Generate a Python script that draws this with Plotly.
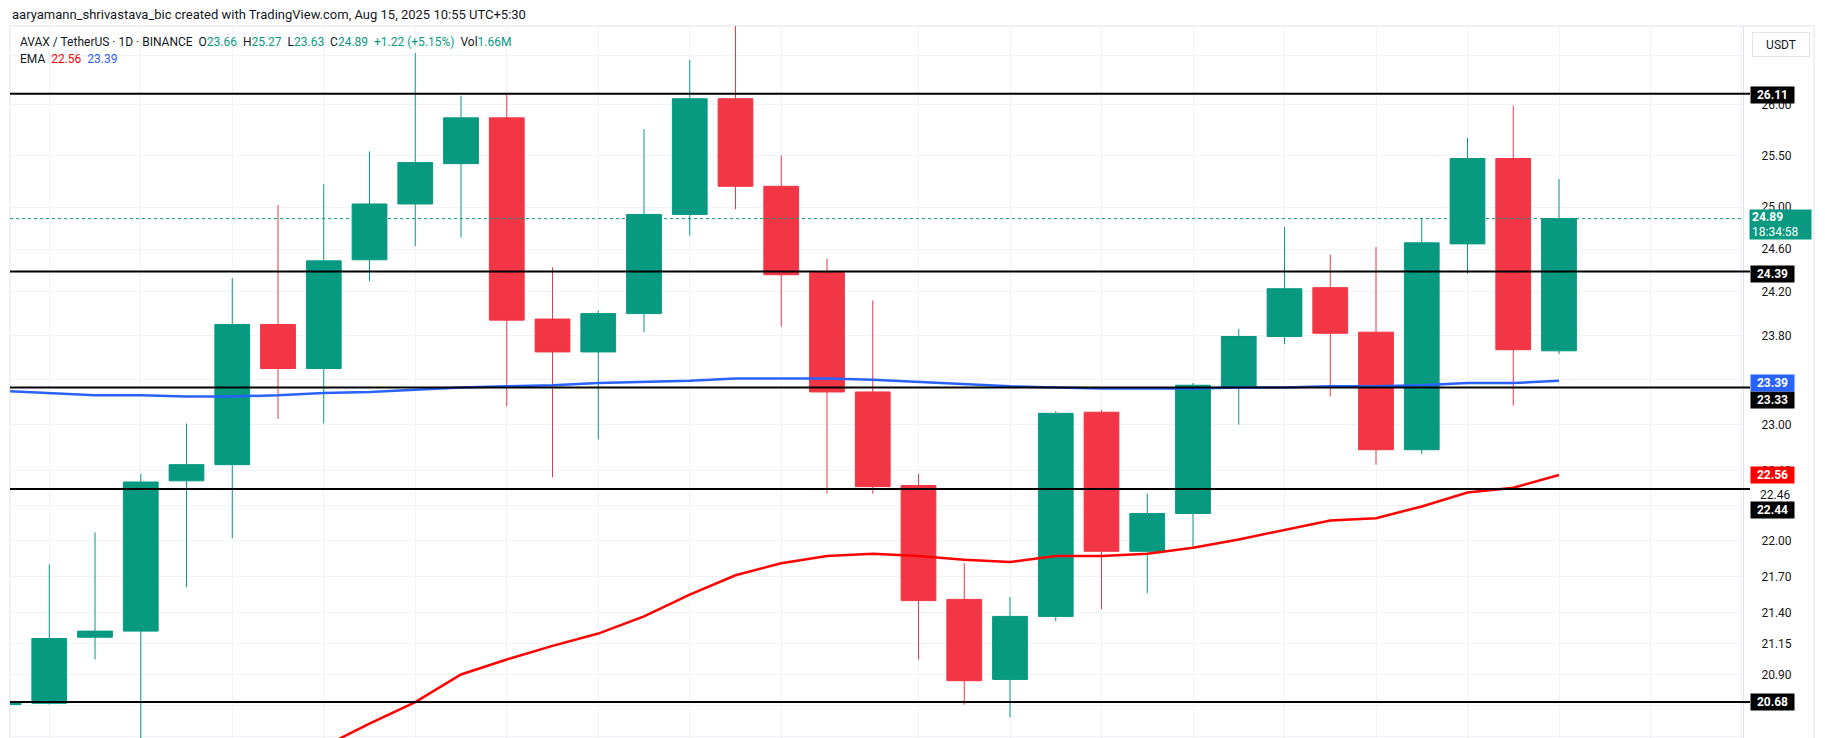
import math
import pandas as pd
import plotly.graph_objects as go

# ---------------- data ----------------
dates = pd.date_range("2025-07-12", periods=35, freq="D")

open_ = [20.66, 20.67, 21.20, 21.25, 22.51, 22.65, 23.90, 23.50, 24.50, 25.03,
         25.42, 25.87, 23.95, 23.65, 24.00, 24.93, 26.06, 25.20, 24.38, 23.29,
         22.47, 21.51, 20.86, 21.37, 23.11, 21.91, 22.23, 23.34, 23.79, 24.24,
         23.83, 22.78, 24.65, 25.47, 23.66]
high = [20.69, 21.80, 22.07, 22.57, 23.01, 24.33, 25.02, 25.22, 25.54, 26.52,
        26.09, 26.10, 24.43, 24.03, 25.76, 26.45, 26.85, 25.50, 24.51, 24.12,
        22.57, 21.81, 21.53, 23.12, 23.13, 22.40, 23.37, 23.86, 24.81, 24.55,
        24.62, 24.89, 25.67, 25.99, 25.27]
low = [20.65, 20.66, 21.02, 20.30, 21.61, 22.02, 23.05, 23.01, 24.30, 24.63,
       24.71, 23.16, 22.54, 22.87, 23.83, 24.73, 24.98, 23.88, 22.40, 22.40,
       21.02, 20.66, 20.56, 21.33, 21.43, 21.56, 21.95, 23.00, 23.72, 23.25,
       22.65, 22.74, 24.37, 23.17, 23.63]
close = [20.68, 21.19, 21.25, 22.50, 22.65, 23.90, 23.50, 24.49, 25.03, 25.43,
         25.87, 23.94, 23.65, 24.00, 24.93, 26.06, 25.20, 24.36, 23.29, 22.46,
         21.50, 20.85, 21.37, 23.10, 21.91, 22.23, 23.35, 23.79, 24.23, 23.82,
         22.78, 24.66, 25.47, 23.67, 24.89]

ema_blue = [23.30, 23.28, 23.26, 23.26, 23.25, 23.25, 23.26, 23.28, 23.29, 23.31,
            23.33, 23.34, 23.35, 23.37, 23.38, 23.39, 23.41, 23.41, 23.41, 23.40,
            23.38, 23.36, 23.34, 23.33, 23.32, 23.32, 23.32, 23.33, 23.33, 23.34,
            23.34, 23.35, 23.37, 23.37, 23.39]
ema_red = [None, None, None, None, None, None, None,
           20.33, 20.51, 20.68, 20.90, 21.02, 21.13, 21.23, 21.37, 21.55, 21.71,
           21.81, 21.87, 21.89, 21.87, 21.84, 21.82, 21.87, 21.87, 21.89, 21.94,
           22.01, 22.09, 22.17, 22.19, 22.29, 22.41, 22.45, 22.56]

levels = [26.11, 24.39, 23.33, 22.44, 20.68]
level_label_shift = [-1, -2, -13, -21, 0]

# price-scale ticks (gridlines); labels hidden under boxes are left blank
tick_vals = [20.41, 20.65, 20.90, 21.15, 21.40, 21.70, 22.00, 22.30, 22.60,
             23.00, 23.40, 23.80, 24.20, 24.60, 25.00, 25.50, 26.00, 26.50]
hidden_ticks = [20.65, 22.30, 23.40, 26.50]
tick_text = ["" if v in hidden_ticks else "%.2f" % v for v in tick_vals]
extra_label_value = 22.39
extra_label_text = "22.46"

last_price = 24.89
countdown = "18:34:58"
ema_red_last = 22.56
ema_blue_last = 23.39

header = "aaryamann_shrivastava_bic created with TradingView.com, Aug 15, 2025 10:55 UTC+5:30"
symbol = "AVAX / TetherUS · 1D · BINANCE"
ohlc_o, ohlc_h, ohlc_l, ohlc_c = "23.66", "25.27", "23.63", "24.89"
change_txt = "+1.22 (+5.15%)"
vol_txt = "1.66M"

grid_dates = (list(pd.date_range("2025-07-13", "2025-07-29", freq="2D")) +
              list(pd.date_range("2025-08-01", "2025-08-19", freq="2D")))

# ---------------- style ----------------
W, H = 1825, 738
ML, MR, MT, MB = 10, 82, 26, 0
PW, PH = W - ML - MR, H - MT - MB
UP, DOWN = "#089981", "#F23645"
BLUE, RED = "#2962FF", "#FF0000"
TXT = "#131722"
GRID = "#f0f3fa"
BORDER = "#e0e3eb"
FONT = "Roboto"

def px_y(py):
    return (H - MB - py) / PH

def px_x(px):
    return (px - ML) / PW

y_top, y_bot = 26.797, 20.397
x0 = dates[0] + pd.Timedelta(hours=3.4)
x1 = dates[0] + pd.Timedelta(days=38.022)

fig = go.Figure()
fig.add_trace(go.Candlestick(
    x=dates, open=open_, high=high, low=low, close=close,
    increasing=dict(line=dict(color=UP, width=1), fillcolor=UP),
    decreasing=dict(line=dict(color=DOWN, width=1), fillcolor=DOWN),
    whiskerwidth=0, hoverinfo="skip"))
fig.add_trace(go.Scatter(x=dates, y=ema_blue, mode="lines",
                         line=dict(color=BLUE, width=2.5), hoverinfo="skip"))
fig.add_trace(go.Scatter(x=dates, y=ema_red, mode="lines",
                         line=dict(color=RED, width=2.5), hoverinfo="skip"))

shapes = []
shapes.append(dict(type="rect", xref="paper", yref="paper", x0=0, x1=px_x(1814),
                   y0=-0.01, y1=1, line=dict(color=BORDER, width=1), layer="below"))
for lv in levels:
    shapes.append(dict(type="line", xref="paper", yref="y", x0=0, x1=px_x(1750),
                       y0=lv, y1=lv, line=dict(color="black", width=2)))
shapes.append(dict(type="line", xref="paper", yref="y", x0=0, x1=1,
                   y0=last_price, y1=last_price,
                   line=dict(color=UP, width=1, dash="dot")))

ann = []
ann.append(dict(text=header, xref="paper", yref="paper", x=0, y=px_y(15),
                xanchor="left", yanchor="middle", showarrow=False,
                font=dict(family=FONT, size=13, color=TXT)))
g = lambda s: "<span style='color:%s'>%s</span>" % (UP, s)
sp = "\u00a0\u00a0"
line1 = (symbol + sp + "O" + g(ohlc_o) + sp + "H" + g(ohlc_h) + sp + "L" + g(ohlc_l)
         + sp + "C" + g(ohlc_c) + sp + g(change_txt) + sp + "Vol" + g(vol_txt))
ann.append(dict(text=line1, xref="paper", yref="paper", x=px_x(18), y=px_y(42),
                xanchor="left", yanchor="middle", showarrow=False,
                font=dict(family=FONT, size=12, color=TXT)))
line2 = ("EMA" + sp + "<span style='color:%s'>%.2f</span>" % (RED, ema_red_last) + sp +
         "<span style='color:%s'>%.2f</span>" % (BLUE, ema_blue_last))
ann.append(dict(text=line2, xref="paper", yref="paper", x=px_x(18), y=px_y(59),
                xanchor="left", yanchor="middle", showarrow=False,
                font=dict(family=FONT, size=12, color=TXT)))
ann.append(dict(text="USDT", xref="paper", yref="paper", x=px_x(1781), y=px_y(44),
                xanchor="center", yanchor="middle", showarrow=False,
                width=52, height=19, borderpad=2, bgcolor="white",
                bordercolor=BORDER, borderwidth=1,
                font=dict(family=FONT, size=12, color=TXT)))

def price_box(val, bg, shift=0):
    return dict(text="<b>%.2f</b>" % val, xref="paper", yref="y", x=1,
                y=math.log10(val), xanchor="left", yanchor="middle", xshift=7,
                yshift=shift, showarrow=False, width=39, height=12, borderpad=2,
                bgcolor=bg, font=dict(family=FONT, size=12, color="white"))

for lv, sh in zip(levels, level_label_shift):
    ann.append(price_box(lv, "black", sh))
ann.append(price_box(ema_blue_last, BLUE, -2))
ann.append(price_box(ema_red_last, RED, 0))
ann.append(dict(text=extra_label_text, xref="paper", yref="y", x=1,
                y=math.log10(extra_label_value), xanchor="left", yanchor="middle",
                xshift=15, showarrow=False, font=dict(family=FONT, size=12, color=TXT)))
ann.append(dict(text="<b>%.2f</b><br>%s" % (last_price, countdown), xref="paper",
                yref="y", x=1, y=math.log10(last_price), xanchor="left",
                yanchor="top", xshift=6, yshift=10, showarrow=False,
                width=57, height=25, borderpad=2, bgcolor=UP, align="left",
                font=dict(family=FONT, size=12, color="white")))

fig.update_layout(
    width=W, height=H, margin=dict(l=ML, r=MR, t=MT, b=MB, pad=0),
    paper_bgcolor="white", plot_bgcolor="white", showlegend=False,
    boxgap=0.24, boxgroupgap=0, hovermode=False,
    shapes=shapes, annotations=ann,
    xaxis=dict(type="date", range=[x0, x1], tickvals=grid_dates,
               showticklabels=False, showgrid=True, gridcolor=GRID, gridwidth=1,
               zeroline=False, showline=False, rangeslider=dict(visible=False),
               fixedrange=True),
    yaxis=dict(type="log", side="right",
               range=[math.log10(y_bot), math.log10(y_top)],
               tickvals=tick_vals, ticktext=tick_text, ticks="",
               ticklabelstandoff=15,
               tickfont=dict(family=FONT, size=12, color=TXT),
               showgrid=True, gridcolor=GRID, gridwidth=1, zeroline=False,
               showline=True, linecolor=BORDER, linewidth=1, fixedrange=True),
)

fig.write_html("out.html")
